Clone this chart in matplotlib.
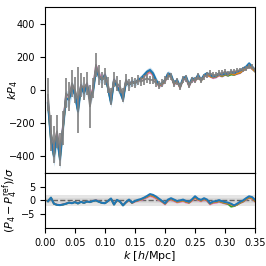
"""kP4 multipoles vs k with residual panel."""
import numpy as np
import matplotlib
matplotlib.use("Agg")
import matplotlib.pyplot as plt

plt.rcParams["font.size"] = 7

k = np.arange(0.005, 0.3501, 0.005)

# model (blue) + 1-sigma band
p4_blue = [-80, -300, -400, -280, -420, -230, -50, -60, 10, -30,
           -130, 20, -20, 30, -60, -10, 120, 80, 60, 90,
           10, -80, 60, 20, -10, -60, 50, 30, 50, 40,
           60, 70, 90, 110, 120, 100, 60, 30, 40, 60,
           100, 90, 40, 60, 20, 70, 80, 30, 70, 60,
           90, 60, 90, 100, 90, 80, 85, 100, 90, 100,
           95, 110, 100, 110, 115, 130, 140, 160, 140, 120]
sig_blue = [60, 60, 60, 55, 55, 50, 50, 45, 45, 40,
            40, 38, 36, 35, 34, 32, 30, 30, 28, 28,
            26, 26, 25, 24, 24, 22, 22, 21, 20, 20,
            20, 19, 19, 18, 18, 18, 17, 17, 17, 16,
            16, 16, 15, 15, 15, 15, 14, 14, 14, 14,
            14, 13, 13, 13, 13, 13, 12, 12, 12, 12,
            12, 12, 12, 11, 11, 11, 11, 11, 11, 11]
p4_pink = [-70, -280, -370, -250, -390, -210, -30, -40, 30, -10,
           -110, 30, -5, 40, -40, 10, 150, 100, 70, 95,
           20, -60, 65, 30, 0, -50, 55, 35, 50, 40,
           55, 60, 80, 95, 105, 85, 50, 20, 30, 50,
           85, 80, 30, 50, 10, 60, 65, 20, 60, 50,
           80, 55, 80, 85, 80, 70, 75, 85, 80, 90,
           85, 95, 90, 95, 100, 115, 125, 140, 125, 110]
p4_orange = [-80, -300, -400, -280, -415, -230, -50, -55, 15, -25,
             -125, 20, -15, 30, -55, -5, 125, 85, 60, 90,
             10, -75, 60, 20, -10, -55, 50, 30, 48, 40,
             58, 65, 85, 105, 115, 95, 55, 25, 35, 55,
             95, 85, 35, 55, 15, 65, 75, 25, 65, 55,
             85, 55, 85, 92, 82, 75, 80, 92, 85, 95,
             90, 100, 92, 100, 105, 120, 130, 148, 130, 112]
p4_green = [-80, -300, -400, -280, -415, -230, -50, -55, 15, -25,
            -125, 20, -15, 30, -55, -5, 125, 85, 60, 90,
            10, -75, 60, 20, -10, -55, 50, 30, 48, 40,
            58, 65, 85, 105, 115, 95, 55, 25, 35, 55,
            95, 85, 35, 55, 15, 65, 75, 25, 65, 55,
            85, 55, 85, 92, 82, 75, 80, 90, 82, 92,
            85, 92, 90, 98, 103, 118, 128, 145, 128, 110]
p4_meas = [-30, -260, -330, -250, -360, -230, -20, -40, 40, 0,
           -60, 30, 10, 40, -100, 10, 150, 90, 60, 80,
           30, -40, 60, 40, 20, -30, 60, 30, 50, 40,
           60, 50, 60, 70, 60, 60, 40, 30, 40, 60,
           80, 80, 40, 50, 20, 60, 70, 30, 60, 60,
           80, 60, 80, 90, 100, 90, 90, 100, 100, 110,
           100, 110, 110, 115, 120, 125, 130, 140, 140, 120]
err_meas = [100, 110, 110, 100, 100, 100, 90, 90, 80, 80,
            200, 70, 70, 70, 130, 60, 70, 60, 50, 50,
            50, 50, 45, 45, 40, 40, 35, 35, 30, 30,
            30, 28, 28, 26, 26, 25, 25, 24, 24, 23,
            23, 22, 22, 22, 21, 21, 20, 20, 20, 20,
            19, 19, 18, 18, 18, 18, 17, 17, 17, 17,
            16, 16, 16, 16, 15, 15, 15, 15, 15, 15]

# residuals (P4 - P4_ref)/sigma
res_blue = [-0.3, 1.0, -1.2, -1.6, -1.7, -1.5, -1.2, -0.8, -1.0, -0.6,
            -1.1, -0.5, -0.9, -0.4, -0.6, -0.2, 0.0, -0.5, -0.9, -1.0,
            -0.2, 0.7, -1.5, 0.2, -0.4, -1.8, -0.6, 0.3, -0.8, -0.2,
            0.2, 0.5, 1.0, 1.6, 2.3, 2.0, 1.4, 0.6, -0.2, -1.0,
            0.3, 0.8, 0.3, -0.2, 0.0, 0.3, -0.2, -0.5, 0.4, 1.5,
            0.6, 0.2, 0.8, 0.3, -1.0, -0.4, -0.3, 0.1, -0.3, -0.6,
            -0.8, -1.2, -1.8, -1.2, -0.5, 0.0, 0.8, 1.5, 1.2, 0.2]
res_pink = [-0.3, 0.8, -1.2, -1.5, -1.6, -1.4, -1.1, -0.8, -0.9, -0.6,
            -1.0, -0.5, -0.8, -0.4, -0.5, -0.2, 0.2, -0.4, -0.9, -1.0,
            -0.2, 0.5, -1.4, 0.0, -0.5, -1.6, -0.8, 0.0, -1.0, -0.5,
            -0.2, 0.0, 0.5, 1.0, 1.5, 1.2, 0.6, 0.0, -0.6, -1.5,
            -0.3, 0.2, -0.3, -0.8, -0.6, -0.3, -0.8, -1.0, -0.2, 0.8,
            0.0, -0.4, 0.2, -0.3, -1.5, -1.0, -0.9, -0.6, -0.9, -1.2,
            -1.4, -1.6, -2.0, -1.6, -1.0, -0.6, 0.2, 0.8, 0.5, -0.5]
res_orange = [-0.3, 1.0, -1.2, -1.6, -1.7, -1.5, -1.2, -0.8, -1.0, -0.6,
              -1.1, -0.5, -0.9, -0.4, -0.6, -0.2, 0.0, -0.5, -0.9, -1.0,
              -0.2, 0.6, -1.5, 0.1, -0.5, -1.8, -0.7, 0.2, -0.9, -0.3,
              0.0, 0.3, 0.8, 1.3, 1.9, 1.6, 1.0, 0.3, -0.4, -1.2,
              0.0, 0.5, 0.0, -0.5, -0.3, 0.0, -0.5, -0.8, 0.1, 1.1,
              0.3, -0.1, 0.5, 0.0, -1.2, -0.7, -0.6, -0.2, -0.6, -0.9,
              -1.1, -1.5, -2.0, -1.5, -0.8, -0.3, 0.5, 1.1, 0.8, -0.2]
res_green = [-0.3, 1.0, -1.2, -1.6, -1.7, -1.5, -1.2, -0.8, -1.0, -0.6,
             -1.1, -0.5, -0.9, -0.4, -0.6, -0.2, 0.0, -0.5, -0.9, -1.0,
             -0.2, 0.6, -1.5, 0.1, -0.5, -1.8, -0.7, 0.2, -0.9, -0.3,
             0.0, 0.3, 0.8, 1.3, 1.9, 1.6, 1.0, 0.3, -0.4, -1.2,
             0.0, 0.5, 0.0, -0.5, -0.3, 0.0, -0.5, -0.8, 0.1, 1.1,
             0.3, -0.1, 0.5, 0.0, -1.2, -0.7, -0.6, -0.3, -0.7, -1.0,
             -1.3, -2.3, -2.1, -1.6, -0.9, -0.4, 0.4, 1.0, 0.7, -0.3]

fig = plt.figure(figsize=(2.66, 2.66), dpi=100)
ax1 = fig.add_axes([0.169, 0.350, 0.790, 0.624])
ax2 = fig.add_axes([0.169, 0.143, 0.790, 0.207], sharex=ax1)

ax1.fill_between(k, np.array(p4_blue) - sig_blue, np.array(p4_blue) + sig_blue,
                 color="C0", alpha=0.25, lw=0)
ax1.plot(k, p4_pink, color="C6", lw=1.2)
ax1.plot(k, p4_green, color="C2", lw=1.2)
ax1.plot(k, p4_orange, color="C1", lw=1.2)
ax1.plot(k, p4_blue, color="C0", lw=1.5)
ax1.errorbar(k, p4_meas, yerr=err_meas, color="C7", lw=1.2, elinewidth=1.2)
ax1.set_ylim(-500, 500)
ax1.set_yticks([-400, -200, 0, 200, 400])
ax1.set_ylabel("$kP_4$", fontsize=8)
ax1.yaxis.set_label_coords(-0.12, 0.5)
ax1.tick_params(labelbottom=False, bottom=False)

ax2.axhspan(-2, 2, color="0.8", alpha=0.5, lw=0)
ax2.axhspan(-1, 1, color="0.8", alpha=0.5, lw=0)
ax2.axhline(0, color="0.4", ls="--", lw=1)
ax2.plot(k, res_pink, color="C6", lw=1.2)
ax2.plot(k, res_green, color="C2", lw=1.2)
ax2.plot(k, res_orange, color="C1", lw=1.2)
ax2.plot(k, res_blue, color="C0", lw=1.5)
ax2.set_ylim(-10, 10)
ax2.set_yticks([-5, 0, 5])
ax2.set_xlim(0, 0.35)
ax2.set_xticks(np.arange(0, 0.351, 0.05))
ax2.set_ylabel("$(P_4-P_4^{\\rm ref})/\\sigma$", fontsize=8)
ax2.yaxis.set_label_coords(-0.12, 0.5)
ax2.set_xlabel("$k$ [$h$/Mpc]", fontsize=8, labelpad=1)

fig.savefig("out.png", dpi=100)
